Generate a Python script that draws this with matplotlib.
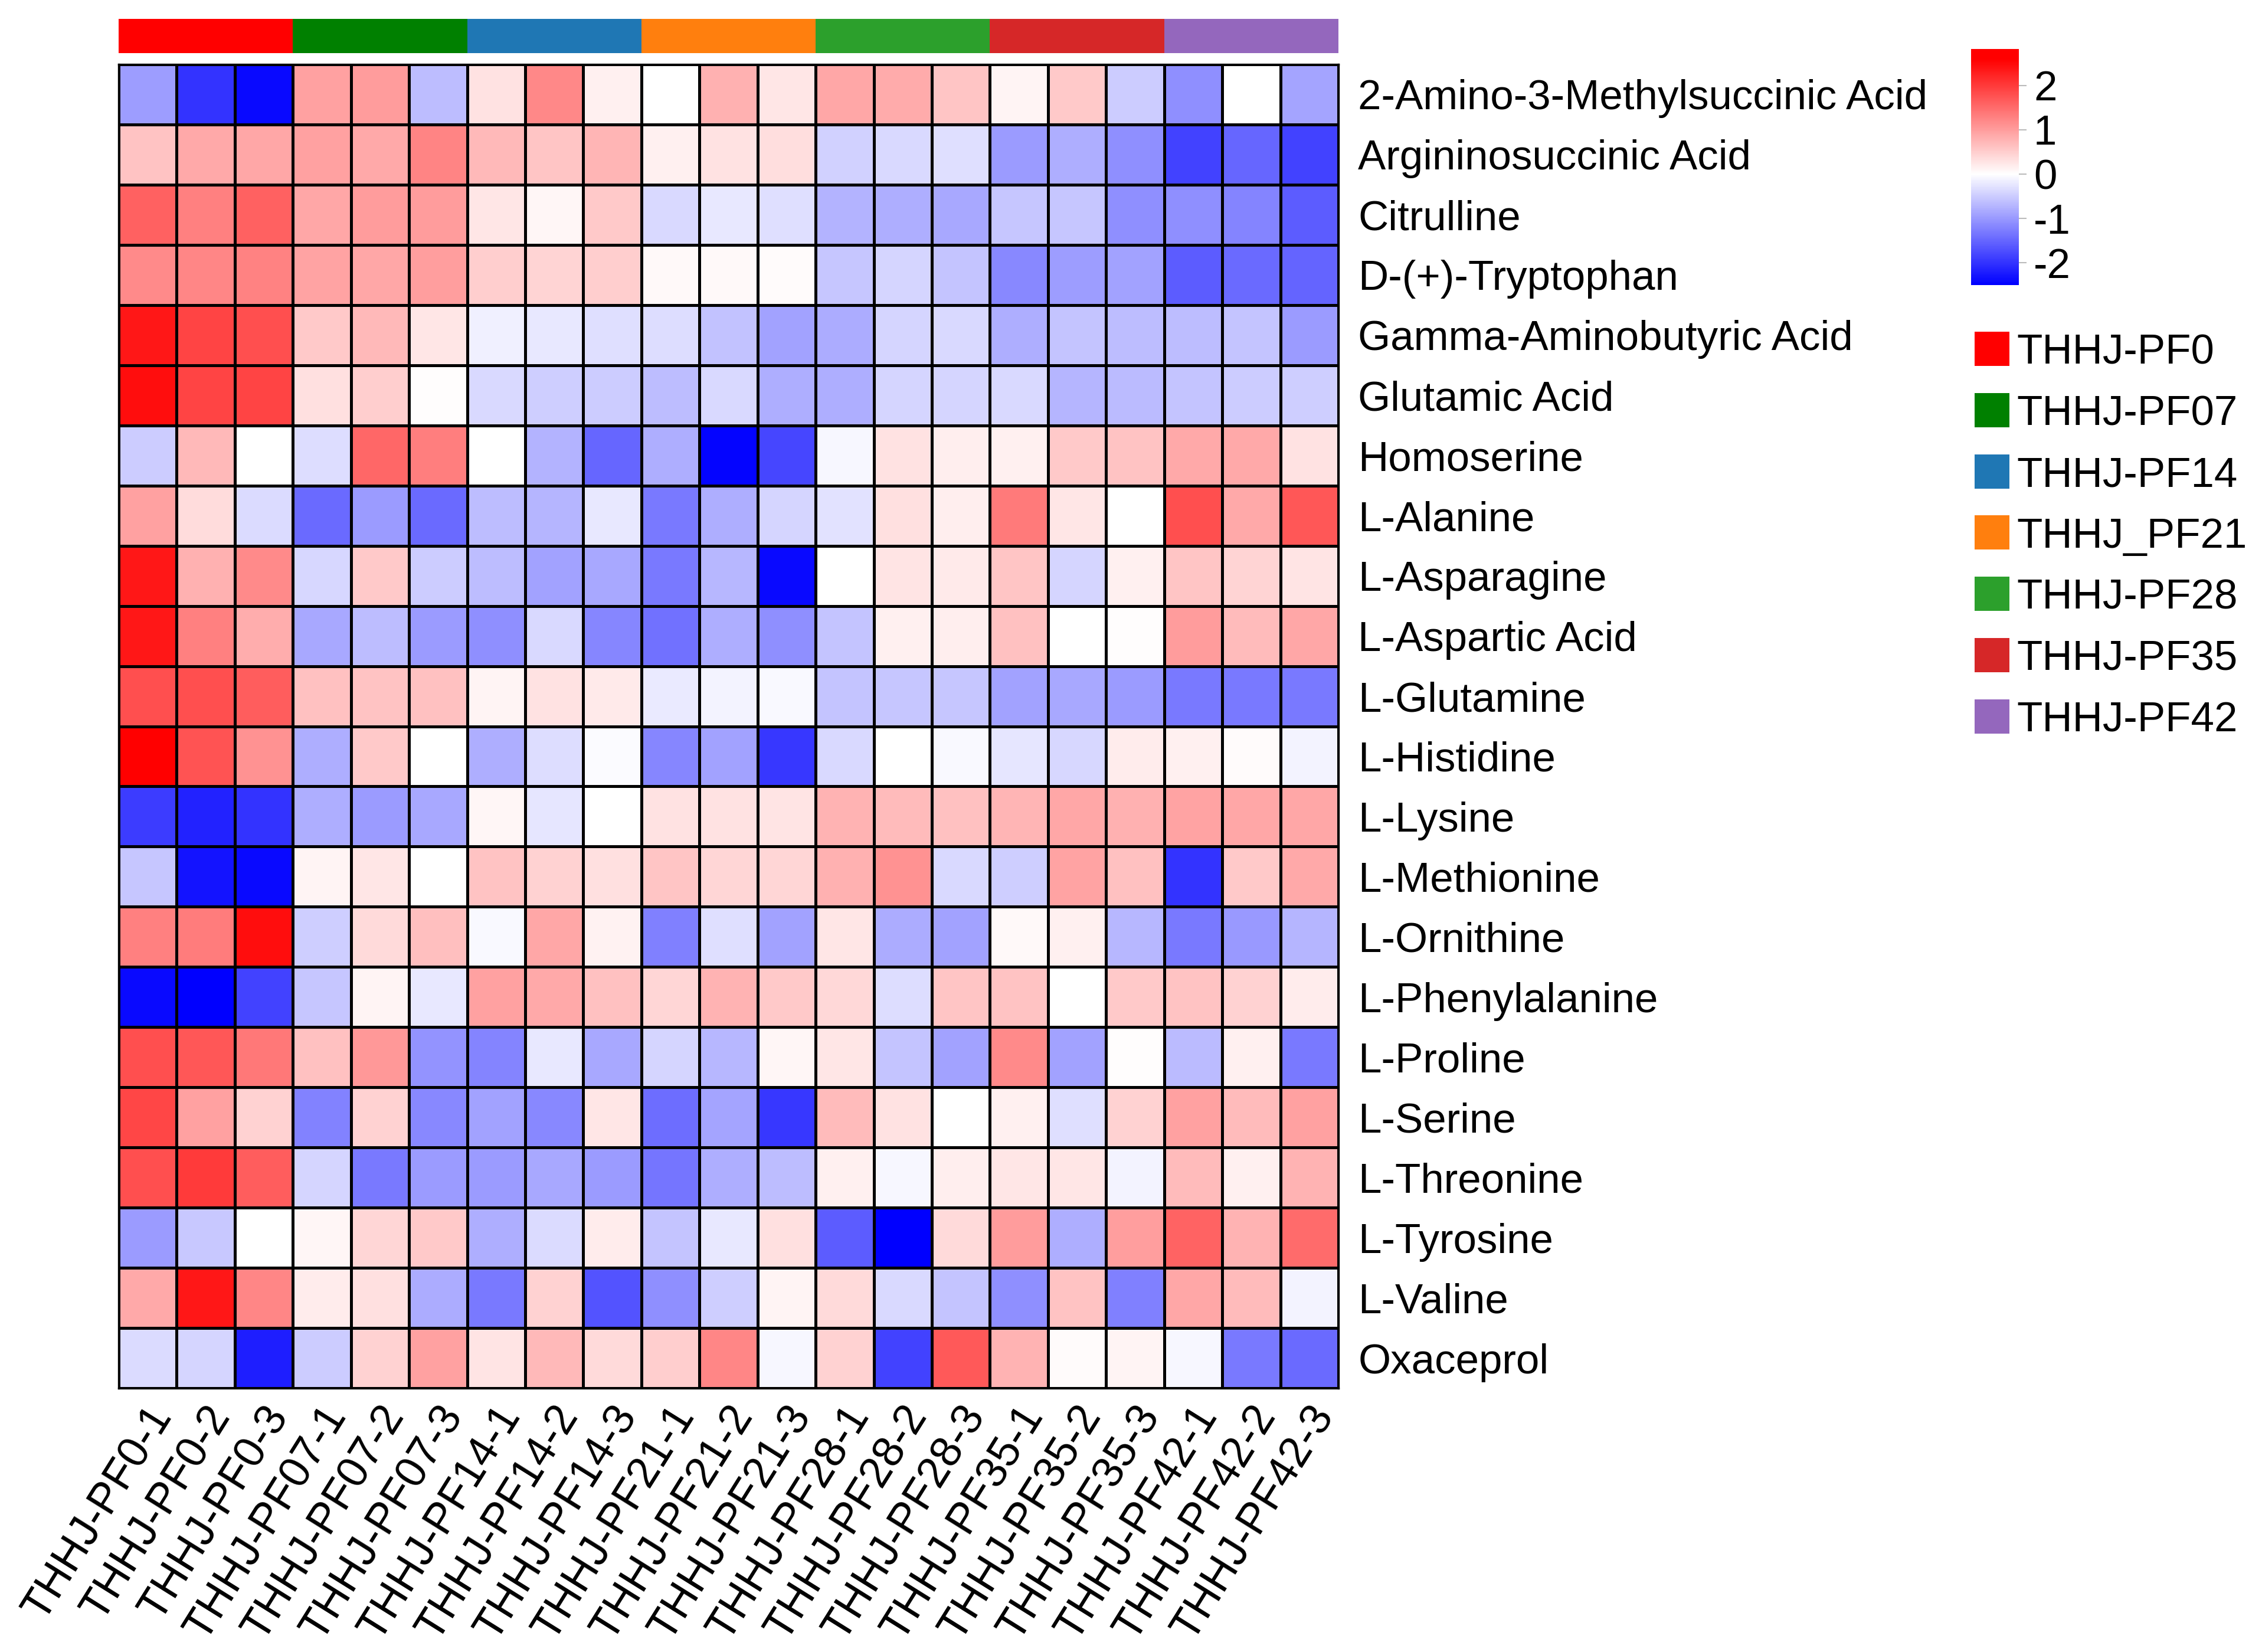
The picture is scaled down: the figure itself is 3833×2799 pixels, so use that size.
import numpy as np
import matplotlib
matplotlib.use('Agg')
import matplotlib.pyplot as plt
from matplotlib.colors import LinearSegmentedColormap, Normalize, ListedColormap
from matplotlib.patches import Rectangle
import matplotlib.transforms as mtransforms
import matplotlib.cm as cm

plt.rcParams['font.family'] = ['Liberation Sans', 'DejaVu Sans']

metabolites = [
    '2-Amino-3-Methylsuccinic Acid', 'Argininosuccinic Acid', 'Citrulline',
    'D-(+)-Tryptophan', 'Gamma-Aminobutyric Acid', 'Glutamic Acid', 'Homoserine',
    'L-Alanine', 'L-Asparagine', 'L-Aspartic Acid', 'L-Glutamine', 'L-Histidine',
    'L-Lysine', 'L-Methionine', 'L-Ornithine', 'L-Phenylalanine', 'L-Proline',
    'L-Serine', 'L-Threonine', 'L-Tyrosine', 'L-Valine', 'Oxaceprol']

samples = ['THHJ-PF0-1', 'THHJ-PF0-2', 'THHJ-PF0-3',
           'THHJ-PF07-1', 'THHJ-PF07-2', 'THHJ-PF07-3',
           'THHJ-PF14-1', 'THHJ-PF14-2', 'THHJ-PF14-3',
           'THHJ-PF21-1', 'THHJ-PF21-2', 'THHJ-PF21-3',
           'THHJ-PF28-1', 'THHJ-PF28-2', 'THHJ-PF28-3',
           'THHJ-PF35-1', 'THHJ-PF35-2', 'THHJ-PF35-3',
           'THHJ-PF42-1', 'THHJ-PF42-2', 'THHJ-PF42-3']

groups = ['THHJ-PF0', 'THHJ-PF07', 'THHJ-PF14', 'THHJ_PF21', 'THHJ-PF28', 'THHJ-PF35', 'THHJ-PF42']
group_colors = ['#FF0000', '#008000', '#1F77B4', '#FF7F0E', '#2CA02C', '#D62728', '#9467BD']
sample_group = [0, 0, 0, 1, 1, 1, 2, 2, 2, 3, 3, 3, 4, 4, 4, 5, 5, 5, 6, 6, 6]

values = [
    [-0.95, -2.0, -2.4, 0.95, 1.0, -0.65, 0.3, 1.2, 0.15, 0.0, 0.8, 0.25, 0.9, 0.85, 0.58, 0.1, 0.55, -0.5, -1.1, 0.0, -0.88],
    [0.6, 0.87, 0.9, 0.95, 0.87, 1.25, 0.72, 0.58, 0.75, 0.15, 0.3, 0.33, -0.45, -0.38, -0.3, -0.98, -0.78, -1.1, -1.85, -1.5, -1.85],
    [1.6, 1.3, 1.6, 0.9, 1.0, 1.0, 0.25, 0.08, 0.55, -0.38, -0.22, -0.3, -0.75, -0.78, -0.85, -0.55, -0.55, -1.1, -1.1, -1.2, -1.6],
    [1.18, 1.22, 1.28, 0.93, 0.9, 0.98, 0.5, 0.45, 0.5, 0.06, 0.06, 0.05, -0.55, -0.42, -0.57, -1.15, -0.95, -0.9, -1.6, -1.45, -1.52],
    [2.35, 1.9, 1.8, 0.55, 0.72, 0.25, -0.15, -0.22, -0.3, -0.32, -0.6, -0.9, -0.8, -0.42, -0.36, -0.78, -0.57, -0.63, -0.63, -0.57, -0.98],
    [2.45, 1.9, 1.9, 0.32, 0.5, 0.02, -0.38, -0.47, -0.5, -0.63, -0.38, -0.78, -0.78, -0.42, -0.42, -0.36, -0.72, -0.66, -0.57, -0.5, -0.47],
    [-0.5, 0.72, 0.0, -0.32, 1.55, 1.32, 0.0, -0.75, -1.5, -0.78, -2.45, -1.8, -0.08, 0.3, 0.17, 0.15, 0.55, 0.6, 0.87, 0.87, 0.3],
    [0.97, 0.35, -0.35, -1.45, -0.97, -1.45, -0.63, -0.72, -0.22, -1.3, -0.78, -0.42, -0.28, 0.32, 0.17, 1.35, 0.25, 0.0, 1.8, 0.87, 1.7],
    [2.35, 0.8, 1.18, -0.4, 0.55, -0.5, -0.63, -0.9, -0.85, -1.3, -0.7, -2.4, 0.0, 0.28, 0.22, 0.58, -0.42, 0.15, 0.58, 0.45, 0.28],
    [2.35, 1.3, 0.83, -0.85, -0.63, -0.97, -1.1, -0.38, -1.18, -1.38, -0.78, -1.1, -0.57, 0.15, 0.17, 0.63, 0.0, 0.02, 1.0, 0.7, 0.9],
    [1.8, 1.8, 1.65, 0.63, 0.6, 0.63, 0.1, 0.3, 0.22, -0.2, -0.12, -0.05, -0.57, -0.55, -0.55, -0.9, -0.85, -0.98, -1.3, -1.3, -1.3],
    [2.82, 1.75, 1.1, -0.78, 0.55, 0.0, -0.78, -0.33, -0.04, -1.18, -0.9, -1.95, -0.38, 0.0, -0.05, -0.25, -0.4, 0.2, 0.15, 0.04, -0.12],
    [-1.9, -2.15, -2.0, -0.78, -0.97, -0.85, 0.08, -0.25, 0.0, 0.3, 0.3, 0.28, 0.78, 0.7, 0.63, 0.75, 0.9, 0.8, 0.93, 0.9, 0.9],
    [-0.55, -2.3, -2.4, 0.1, 0.25, 0.0, 0.6, 0.47, 0.32, 0.58, 0.42, 0.42, 0.8, 1.1, -0.38, -0.47, 0.93, 0.63, -2.0, 0.55, 0.87],
    [1.3, 1.33, 2.45, -0.47, 0.38, 0.65, -0.05, 0.9, 0.12, -1.25, -0.3, -0.9, 0.25, -0.8, -0.9, 0.06, 0.15, -0.7, -1.3, -1.0, -0.72],
    [-2.4, -2.48, -1.85, -0.55, 0.1, -0.22, 0.97, 0.87, 0.63, 0.42, 0.78, 0.55, 0.4, -0.32, 0.58, 0.6, 0.0, 0.55, 0.6, 0.47, 0.2],
    [1.8, 1.7, 1.38, 0.62, 1.05, -1.05, -1.2, -0.22, -0.85, -0.42, -0.7, 0.08, 0.25, -0.57, -0.9, 1.18, -0.9, 0.02, -0.66, 0.15, -1.3],
    [1.88, 0.97, 0.47, -1.22, 0.47, -1.15, -0.9, -1.15, 0.25, -1.42, -0.88, -1.95, 0.7, 0.3, 0.0, 0.15, -0.3, 0.47, 0.97, 0.7, 0.97],
    [1.8, 2.0, 1.65, -0.42, -1.3, -0.98, -0.98, -0.85, -0.98, -1.35, -0.78, -0.63, 0.15, -0.08, 0.17, 0.25, 0.25, -0.12, 0.7, 0.15, 0.78],
    [-0.97, -0.53, 0.0, 0.08, 0.42, 0.55, -0.78, -0.35, 0.2, -0.57, -0.22, 0.32, -1.6, -2.5, 0.38, 1.0, -0.78, 0.98, 1.58, 0.78, 1.5],
    [0.87, 2.35, 1.22, 0.2, 0.32, -0.8, -1.3, 0.47, -1.68, -1.1, -0.47, 0.1, 0.38, -0.38, -0.57, -1.1, 0.6, -1.25, 0.9, 0.7, -0.12],
    [-0.35, -0.42, -2.2, -0.5, 0.47, 0.95, 0.28, 0.72, 0.38, 0.5, 1.22, -0.08, 0.47, -1.85, 1.68, 0.78, 0.04, 0.1, -0.08, -1.3, -1.45],
]

cbar_ticks = [-2, -1, 0, 1, 2]

W, H = 3833, 2799
fig = plt.figure(figsize=(W / 100, H / 100), dpi=100)
fig.patch.set_facecolor('white')


def fx(px):
    return px / W


def fy(py):
    return 1 - py / H


FS = 51

# heatmap
hm_l, hm_r, hm_t, hm_b = 201, 2268, 109, 2352
ax = fig.add_axes([fx(hm_l), fy(hm_b), (hm_r - hm_l) / W, (hm_b - hm_t) / H])
data = np.array(values)
vmin, vmax, vred = -2.5, 2.82, 2.6
cmap = LinearSegmentedColormap.from_list(
    'bwr_custom', [(0.0, '#0000FF'),
                   ((0 - vmin) / (vmax - vmin), '#FFFFFF'),
                   ((vred - vmin) / (vmax - vmin), '#FF0000'),
                   (1.0, '#FF0000')])
norm = Normalize(vmin=vmin, vmax=vmax)
ax.pcolormesh(data, cmap=cmap, norm=norm, edgecolors='black', linewidth=2.4)
ax.set_xlim(0, data.shape[1])
ax.set_ylim(data.shape[0], 0)
for sp in ax.spines.values():
    sp.set_linewidth(2.4)
    sp.set_color('black')

ax.yaxis.tick_right()
ax.set_yticks(np.arange(len(metabolites)) + 0.5)
ax.set_yticklabels(metabolites, fontsize=FS)
ax.tick_params(axis='y', length=0, pad=24)

ax.set_xticks(np.arange(len(samples)) + 0.5)
ax.set_xticklabels(samples, fontsize=53, rotation=58, ha='right', va='top',
                   rotation_mode='anchor')
ax.tick_params(axis='x', length=0, pad=14)
offset = mtransforms.ScaledTranslation(-0.04, 0.02, fig.dpi_scale_trans)
for lbl in ax.get_xticklabels():
    lbl.set_transform(lbl.get_transform() + offset)

# annotation bar
ann = fig.add_axes([fx(hm_l), fy(90), (hm_r - hm_l) / W, 58 / H])
ann.pcolormesh(np.array([sample_group]), cmap=ListedColormap(group_colors),
               vmin=-0.5, vmax=len(groups) - 0.5)
ann.set_xlim(0, len(samples))
ann.axis('off')

# colorbar
cax = fig.add_axes([fx(3340), fy(483), 81 / W, 400 / H])
cb = fig.colorbar(cm.ScalarMappable(norm=norm, cmap=cmap), cax=cax)
cb.outline.set_visible(False)
cb.set_ticks(cbar_ticks)
cb.set_ticklabels([str(t) for t in cbar_ticks])
cax.tick_params(labelsize=FS, length=9, width=1.5, color='#BBBBBB', pad=9)

# legend
for i, (g, c) in enumerate(zip(groups, group_colors)):
    top = 562 + i * 103.8
    fig.add_artist(Rectangle((fx(3346), fy(top + 58)), 59 / W, 58 / H,
                             transform=fig.transFigure, facecolor=c, edgecolor='none'))
    fig.text(fx(3417), fy(top + 29), g, fontsize=FS, va='center_baseline', ha='left')

fig.savefig('out.png', dpi=100)
